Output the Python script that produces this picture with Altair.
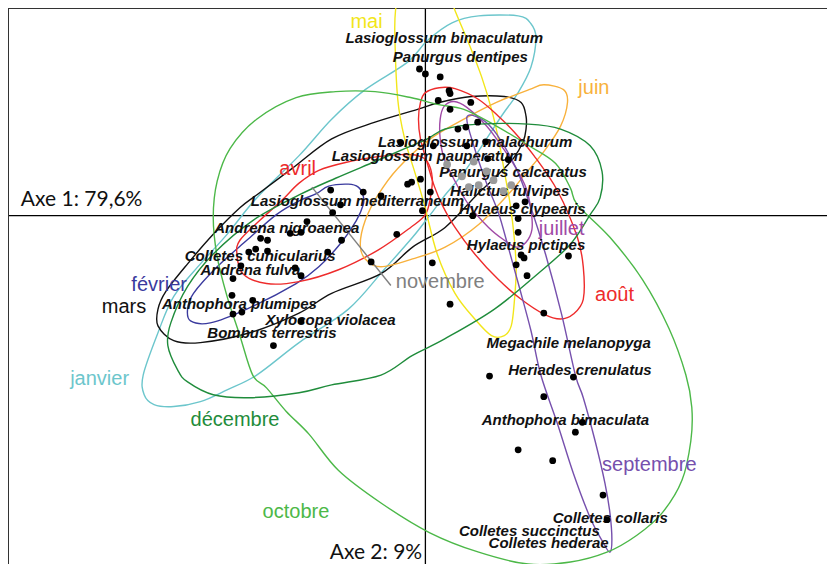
import altair as alt
import pandas as pd

# ---------------- data (ordination scores) ----------------
months = ["janvier", "février", "mars", "avril", "mai", "juin", "juillet",
          "août", "septembre", "octobre", "novembre", "décembre"]
month_colors = ["#6cc6cc", "#3a3a9e", "#111111", "#ee2b2b", "#f2e61a", "#f8b13c",
                "#a04aa6", "#ee2b2b", "#7650ad", "#4cb848", "#808080", "#1f8c3b"]

janvier_x = [0.54, 0.94, 1.07, 1.12, 1.07, 0.94, 0.77, 0.42, 0.20, 0.05, -0.13, -0.42, -0.78, -1.28, -1.71, -2.01, -2.28, -2.55, -2.75, -2.85, -2.86, -2.71, -2.55, -2.28, -2.01, -1.71, -1.28, -0.95, -0.61, -0.18, 0.02, 0.27]
janvier_y = [2.03, 2.03, 1.95, 1.81, 1.51, 1.25, 1.01, 0.48, 0.21, 0.01, -0.22, -0.55, -0.95, -1.29, -1.62, -1.77, -1.89, -1.94, -1.92, -1.82, -1.62, -1.19, -0.82, -0.49, -0.19, 0.18, 0.61, 0.98, 1.28, 1.56, 1.78, 1.96]

fevrier_x = [-0.98, -0.78, -0.68, -0.63, -0.63, -0.70, -0.85, -1.08, -1.31, -1.81, -2.18, -2.38, -2.41, -2.35, -2.11, -1.81, -1.51, -1.28, -1.11]
fevrier_y = [0.30, 0.32, 0.29, 0.20, 0.11, -0.05, -0.27, -0.52, -0.69, -0.95, -1.09, -1.07, -0.95, -0.79, -0.52, -0.25, 0.01, 0.15, 0.22]

mars_x = [-1.88, -1.71, -1.35, -0.95, -0.51, -0.08, 0.14, 0.47, 0.80, 0.97, 1.02, 1.02, 0.99, 0.89, 0.72, 0.52, 0.20, -0.13, -0.45, -0.95, -1.28, -1.78, -2.28, -2.55, -2.71, -2.71, -2.63, -2.41, -2.15]
mars_y = [0.08, 0.21, 0.48, 0.78, 0.95, 1.08, 1.15, 1.21, 1.21, 1.15, 1.01, 0.88, 0.75, 0.58, 0.40, 0.21, -0.12, -0.32, -0.59, -0.79, -0.99, -1.19, -1.29, -1.27, -1.12, -0.95, -0.77, -0.49, -0.19]

avril_x = [-0.25, -0.08, 0.02, 0.07, 0.05, 0.00, -0.15, -0.48, -0.88, -1.28, -1.61, -1.85, -1.91, -1.88, -1.68, -1.46, -1.28, -1.08, -0.81, -0.48]
avril_y = [0.62, 0.61, 0.55, 0.38, 0.18, 0.01, -0.12, -0.35, -0.55, -0.67, -0.69, -0.59, -0.39, -0.25, -0.05, 0.15, 0.33, 0.46, 0.54, 0.60]

mai_x = [0.00, 0.22, 0.29, 0.44, 0.57, 0.67, 0.74, 0.80, 0.86, 0.90, 0.92, 0.90, 0.87, 0.80, 0.67, 0.50, 0.30, 0.12, -0.01, -0.11, -0.21, -0.28, -0.31, -0.30, -0.26]
mai_y = [2.58, 2.33, 2.11, 1.75, 1.41, 1.08, 0.78, 0.45, 0.11, -0.22, -0.55, -0.89, -1.12, -1.22, -1.22, -1.05, -0.79, -0.39, 0.11, 0.45, 0.78, 1.18, 1.85, 2.11, 2.33]

juin_x = [1.20, 1.40, 1.44, 1.37, 1.20, 1.00, 0.87, 0.54, 0.20, -0.13, -0.45, -0.61, -0.66, -0.61, -0.48, -0.28, 0.05, 0.39, 0.72, 1.05]
juin_y = [1.33, 1.28, 1.15, 0.91, 0.65, 0.41, 0.25, -0.09, -0.32, -0.44, -0.52, -0.44, -0.29, -0.05, 0.21, 0.48, 0.78, 0.98, 1.15, 1.28]

juillet_x = [0.15, 0.19, 0.29, 0.42, 0.62, 0.79, 0.92, 1.02, 1.07, 1.08, 1.02, 0.92, 0.80, 0.64, 0.44, 0.30, 0.19, 0.15]
juillet_y = [0.98, 1.11, 1.16, 1.10, 0.91, 0.68, 0.48, 0.28, 0.06, -0.14, -0.27, -0.32, -0.25, -0.12, 0.11, 0.35, 0.58, 0.78]

aout_x = [0.14, 0.30, 0.54, 0.74, 0.90, 1.10, 1.34, 1.54, 1.60, 1.60, 1.50, 1.37, 1.20, 0.97, 0.74, 0.50, 0.30, 0.17, 0.09, 0.02, -0.05, -0.07, -0.05, 0.00]
aout_y = [1.30, 1.29, 1.18, 1.01, 0.85, 0.61, 0.25, -0.22, -0.52, -0.85, -1.00, -1.05, -1.00, -0.85, -0.65, -0.39, -0.12, 0.11, 0.30, 0.53, 0.78, 0.98, 1.15, 1.25]

septembre_x = [0.42, 0.57, 0.72, 0.92, 1.07, 1.22, 1.38, 1.52, 1.60, 1.72, 1.82, 1.87, 1.89, 1.87, 1.80, 1.67, 1.50, 1.34, 1.17, 1.07, 0.95, 0.84, 0.74, 0.62, 0.50]
septembre_y = [1.00, 0.98, 0.83, 0.48, 0.08, -0.40, -1.00, -1.62, -1.85, -2.29, -2.72, -3.02, -3.29, -3.42, -3.32, -3.07, -2.62, -2.12, -1.62, -1.17, -0.72, -0.32, 0.03, 0.33, 0.68]

octobre_x = [-2.15, -2.11, -1.98, -1.71, -1.31, -0.91, -0.51, -0.15, 0.12, 0.39, 0.72, 1.05, 1.32, 1.47, 1.54, 1.87, 2.20, 2.47, 2.64, 2.70, 2.69, 2.60, 2.40, 2.14, 1.84, 1.47, 1.04, 0.54, 0.04, -0.45, -0.88, -1.18, -1.41, -1.61, -1.75, -1.88, -2.01, -2.11]
octobre_y = [-0.02, 0.35, 0.68, 0.98, 1.20, 1.26, 1.26, 1.20, 1.13, 1.08, 0.91, 0.71, 0.53, 0.28, 0.11, -0.22, -0.65, -1.15, -1.62, -1.95, -2.29, -2.69, -3.02, -3.25, -3.42, -3.52, -3.54, -3.42, -3.22, -2.92, -2.59, -2.22, -1.99, -1.75, -1.62, -1.22, -0.82, -0.42]

novembre_x = [-1.15, -0.35]
novembre_y = [0.29, -0.71]

decembre_x = [-1.75, -1.28, -0.91, -0.51, -0.21, 0.02, 0.20, 0.54, 1.04, 1.37, 1.67, 1.79, 1.77, 1.67, 1.47, 1.14, 0.70, 0.20, -0.13, -0.45, -0.95, -1.28, -1.78, -2.15, -2.41, -2.51, -2.61, -2.58, -2.41, -2.15]
decembre_y = [-0.05, 0.21, 0.38, 0.55, 0.68, 0.78, 0.88, 0.93, 0.93, 0.88, 0.71, 0.45, 0.18, 0.01, -0.29, -0.59, -0.95, -1.25, -1.42, -1.62, -1.72, -1.80, -1.85, -1.82, -1.69, -1.57, -1.32, -1.09, -0.72, -0.39]

species_x = [-0.06, 0.00, 0.15, 0.24, 0.25, 0.13, 0.46, 0.25, 0.53, 0.41, 0.33, -0.25, 0.08, 0.42, 0.61, 0.63, 0.84,
             -0.18, -0.14, -0.05, 0.05, -0.03, 0.48, 0.92, 1.01, 0.94, 0.94, 0.97, 1.00, 1.45, 0.92, 1.03, 0.07, 0.25,
             1.20, 0.65, 1.50, 1.20, 1.52, 0.94, 1.29, 1.80, 1.84, 1.59,
             -0.96, -0.63, -0.45, -0.86, -0.94, -1.20, -1.37, -1.26, -1.67, -1.60, -0.85, -0.29, -1.79, -1.72, -1.60,
             -0.99, -0.55, -1.87, -1.32, -1.26, -1.95, -1.96, -1.75, -1.95, -1.86, -1.26, -1.54]
species_y = [1.49, 1.44, 1.41, 1.27, 1.24, 1.17, 1.15, 1.08, 0.95, 0.90, 0.88, 0.74, 0.71, 0.71, 0.75, 0.58, 0.57,
             0.32, 0.34, 0.37, 0.24, 0.05, 0.00, 0.10, 0.14, -0.03, -0.17, -0.40, -0.43, -0.41, -0.50, -0.61, -0.48, -0.90,
             -0.99, -1.63, -1.64, -1.84, -2.20, -2.38, -2.49, -2.84, -3.09, -2.10,
             0.26, 0.24, 0.20, 0.11, 0.03, -0.06, -0.18, -0.17, -0.23, -0.25, -0.25, -0.19, -0.37, -0.34, -0.36,
             -0.37, -0.47, -0.51, -0.53, -0.61, -0.64, -0.81, -0.86, -1.00, -0.98, -1.07, -1.32]

grey_x = [0.22, 0.37, 0.49, 0.62, 0.69, 0.54, 0.79, 0.87, 0.44]
grey_y = [0.52, 0.40, 0.55, 0.45, 0.36, 0.31, 0.25, 0.31, 0.29]

species_names = ["Lasioglossum bimaculatum", "Panurgus dentipes", "Lasioglossum malachurum",
                 "Lasioglossum pauperatum", "Panurgus calcaratus", "Halictus fulvipes",
                 "Lasioglossum mediterraneum", "Hylaeus clypearis", "Andrena nigroaenea",
                 "Colletes cunicularius", "Andrena fulva", "Hylaeus pictipes", "Anthophora plumipes",
                 "Xylocopa violacea", "Bombus terrestris", "Megachile melanopyga", "Heriades crenulatus",
                 "Anthophora bimaculata", "Colletes collaris", "Colletes succinctus", "Colletes hederae"]
species_lx = [-0.81, -0.33, -0.48, -0.95, 0.14, 0.25, -1.77, 0.34, -2.14, -2.44, -2.28, 0.42, -2.67,
              -1.62, -2.21, 0.62, 0.84, 0.57, 1.29, 0.34, 0.64]
species_ly = [1.75, 1.56, 0.70, 0.56, 0.39, 0.20, 0.10, 0.02, -0.18, -0.46, -0.60, -0.35, -0.95,
              -1.11, -1.24, -1.34, -1.62, -2.13, -3.12, -3.26, -3.38]

month_lx = [-3.60, -2.98, -3.28, -1.48, -0.76, 1.55, 1.15, 1.72, 1.79, -1.65, -0.30, -2.38]
month_ly = [-1.72, -0.77, -0.99, 0.41, 1.91, 1.24, -0.20, -0.87, -2.60, -3.07, -0.74, -2.14]

axis_titles = ["Axe 1: 79,6%", "Axe 2: 9%"]
axis_tx = [-4.10, -0.97]
axis_ty = [0.10, -3.49]

XDOM = [-4.23, 4.07]
YDOM = [-3.54, 2.11]

# ---------------- build tables ----------------
curves = {
    "janvier": (janvier_x, janvier_y), "février": (fevrier_x, fevrier_y),
    "mars": (mars_x, mars_y), "avril": (avril_x, avril_y), "mai": (mai_x, mai_y),
    "juin": (juin_x, juin_y), "juillet": (juillet_x, juillet_y), "août": (aout_x, aout_y),
    "septembre": (septembre_x, septembre_y), "octobre": (octobre_x, octobre_y),
    "décembre": (decembre_x, decembre_y),
}
rows = []
for m, (xs_, ys_) in curves.items():
    for i, (a, b) in enumerate(zip(xs_, ys_)):
        rows.append({"month": m, "x": a, "y": b, "i": i})
curve_df = pd.DataFrame(rows)
nov_df = pd.DataFrame({"month": "novembre", "x": novembre_x, "y": novembre_y, "i": [0, 1]})

pts_df = pd.DataFrame({"x": species_x, "y": species_y})
grey_df = pd.DataFrame({"x": grey_x, "y": grey_y})
sp_df = pd.DataFrame({"name": species_names, "x": species_lx, "y": species_ly})
ml_df = pd.DataFrame({"month": months, "x": month_lx, "y": month_ly})
ax_df = pd.DataFrame({"t": axis_titles, "x": axis_tx, "y": axis_ty})

xs = alt.Scale(domain=XDOM, nice=False, zero=False)
ys = alt.Scale(domain=YDOM, nice=False, zero=False)
cs = alt.Scale(domain=months, range=month_colors)
X = alt.X("x:Q", scale=xs, axis=None)
Y = alt.Y("y:Q", scale=ys, axis=None)

hline = alt.Chart(pd.DataFrame({"x": [XDOM[0]], "x2": [XDOM[1]], "y": [0.0]})).mark_rule(
    color="#000000", strokeWidth=1.3).encode(x=X, x2="x2:Q", y=Y)
vline = alt.Chart(pd.DataFrame({"x": [0.0], "y": [YDOM[0]], "y2": [YDOM[1]]})).mark_rule(
    color="#000000", strokeWidth=1.3).encode(x=X, y=Y, y2="y2:Q")
topline = alt.Chart(pd.DataFrame({"x": [XDOM[0]], "x2": [XDOM[1]], "y": [YDOM[1]]})).mark_rule(
    color="#333333", strokeWidth=2).encode(x=X, x2="x2:Q", y=Y)
leftline = alt.Chart(pd.DataFrame({"x": [XDOM[0]], "y": [YDOM[0]], "y2": [YDOM[1]]})).mark_rule(
    color="#333333", strokeWidth=2).encode(x=X, y=Y, y2="y2:Q")

ell = alt.Chart(curve_df).mark_line(interpolate="cardinal-closed", strokeWidth=1.4, clip=True).encode(
    x=X, y=Y, color=alt.Color("month:N", scale=cs, legend=None), detail="month:N", order="i:Q")
nov = alt.Chart(nov_df).mark_line(strokeWidth=1.4, clip=True).encode(
    x=X, y=Y, color=alt.Color("month:N", scale=cs, legend=None), order="i:Q")

grey = alt.Chart(grey_df).mark_circle(size=60, color="#9a9a9a", opacity=1).encode(x=X, y=Y)
pts = alt.Chart(pts_df).mark_circle(size=46, color="#000000", opacity=1).encode(x=X, y=Y)

sp = alt.Chart(sp_df).mark_text(align="left", baseline="alphabetic", font="Liberation Sans",
                                fontSize=15, fontStyle="italic", fontWeight="bold",
                                color="#111111").encode(x=X, y=Y, text="name:N")
ml = alt.Chart(ml_df).mark_text(align="left", baseline="alphabetic", font="Liberation Sans",
                                fontSize=20).encode(
    x=X, y=Y, text="month:N", color=alt.Color("month:N", scale=cs, legend=None))
axt = alt.Chart(ax_df).mark_text(align="left", baseline="alphabetic", font="Lato",
                                 fontSize=21, color="#111111").encode(x=X, y=Y, text="t:N")

chart = alt.layer(hline, vline, topline, leftline, ell, nov, sp, grey, pts, ml, axt).properties(
    width=819, height=556, autosize=alt.AutoSizeParams(type="none"), padding=0,
    background="white"
).configure_view(stroke=None)

chart.save("out.html", embed_options={"renderer": "svg", "actions": False})
